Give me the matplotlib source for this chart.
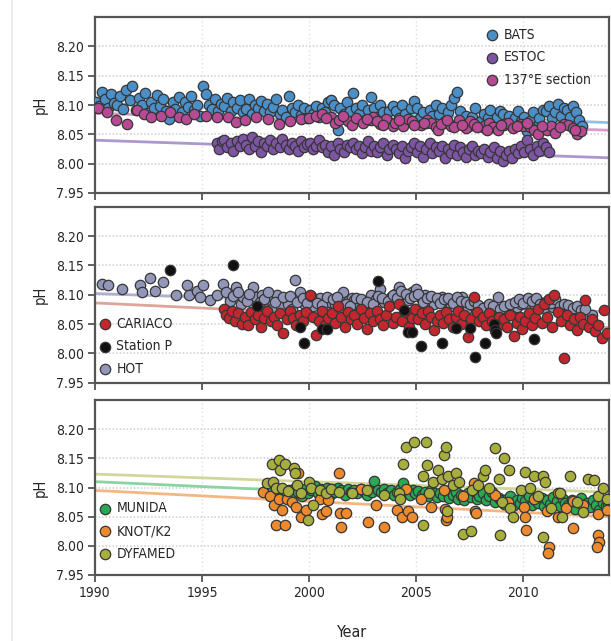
import matplotlib
matplotlib.use("Agg")
import matplotlib.pyplot as plt
import matplotlib.font_manager as fm
from matplotlib.lines import Line2D

# the original uses a condensed sans; take one if it is installed
avail = {(f.name, f.stretch) for f in fm.fontManager.ttflist}
names = {n for n, s in avail}
if "Liberation Sans Narrow" in names:
    plt.rcParams["font.family"] = ["Liberation Sans Narrow", "DejaVu Sans"]
    FS = 11
elif ("DejaVu Sans", "condensed") in avail:
    plt.rcParams["font.family"] = ["DejaVu Sans"]
    plt.rcParams["font.stretch"] = "condensed"
    FS = 10
else:
    plt.rcParams["font.family"] = ["Liberation Sans", "DejaVu Sans"]
    FS = 10

# ---------------- panel 1: BATS, ESTOC, 137E section ----------------
bats_year = [
    1990.04, 1990.18, 1990.33, 1990.46, 1990.62, 1990.75, 1990.90,
    1991.04, 1991.18, 1991.33, 1991.46, 1991.62, 1991.75, 1991.90,
    1992.04, 1992.18, 1992.33, 1992.46, 1992.62, 1992.75, 1992.90,
    1993.04, 1993.18, 1993.33, 1993.46, 1993.62, 1993.75, 1993.90,
    1994.04, 1994.18, 1994.33, 1994.46, 1994.62, 1994.75, 1994.90,
    1995.04, 1995.18, 1995.33, 1995.46, 1995.62, 1995.75, 1995.90,
    1996.04, 1996.18, 1996.33, 1996.46, 1996.62, 1996.75, 1996.90,
    1997.04, 1997.18, 1997.33, 1997.46, 1997.62, 1997.75, 1997.90,
    1998.04, 1998.18, 1998.33, 1998.46, 1998.62, 1998.75, 1998.90,
    1999.04, 1999.18, 1999.33, 1999.46, 1999.62, 1999.75, 1999.90,
    2000.04, 2000.18, 2000.33, 2000.46, 2000.62, 2000.75, 2000.90,
    2001.04, 2001.18, 2001.33, 2001.46, 2001.62, 2001.75, 2001.90,
    2002.04, 2002.18, 2002.33, 2002.46, 2002.62, 2002.75, 2002.90,
    2003.04, 2003.18, 2003.33, 2003.46, 2003.62, 2003.75, 2003.90,
    2004.04, 2004.18, 2004.33, 2004.46, 2004.62, 2004.75, 2004.90,
    2005.04, 2005.18, 2005.33, 2005.46, 2005.62, 2005.75, 2005.90,
    2006.04, 2006.18, 2006.33, 2006.46, 2006.62, 2006.75, 2006.90,
    2007.04, 2007.18, 2007.33, 2007.46, 2007.62, 2007.75, 2007.90,
    2008.04, 2008.18, 2008.33, 2008.46, 2008.62, 2008.75, 2008.90,
    2009.04, 2009.18, 2009.33, 2009.46, 2009.62, 2009.75, 2009.90,
    2010.04, 2010.18, 2010.33, 2010.46, 2010.62, 2010.75, 2010.90,
    2011.04, 2011.18, 2011.33, 2011.46, 2011.62, 2011.75, 2011.90,
    2012.04, 2012.18, 2012.33, 2012.46, 2012.62, 2012.75,
]
bats_ph = [
    8.105, 8.098, 8.122, 8.110, 8.095, 8.118, 8.104,
    8.100, 8.115, 8.094, 8.126, 8.108, 8.132, 8.092,
    8.112, 8.100, 8.120, 8.086, 8.105, 8.095, 8.117,
    8.098, 8.110, 8.090, 8.076, 8.105, 8.093, 8.114,
    8.088, 8.105, 8.096, 8.115, 8.092, 8.100, 8.082,
    8.132, 8.118, 8.100, 8.094, 8.110, 8.090, 8.102,
    8.098, 8.112, 8.089, 8.105, 8.095, 8.108, 8.088,
    8.093, 8.110, 8.085, 8.100, 8.095, 8.106, 8.090,
    8.102, 8.088, 8.096, 8.110, 8.085, 8.092, 8.080,
    8.115, 8.095, 8.088, 8.100, 8.083, 8.095, 8.078,
    8.092, 8.085, 8.098, 8.080, 8.095, 8.088, 8.105,
    8.108, 8.100, 8.058, 8.095, 8.085, 8.105, 8.090,
    8.120, 8.095, 8.085, 8.100, 8.075, 8.092, 8.113,
    8.095, 8.080, 8.100, 8.088, 8.075, 8.090, 8.098,
    8.090, 8.078, 8.100, 8.085, 8.072, 8.095, 8.106,
    8.095, 8.078, 8.088, 8.070, 8.092, 8.082, 8.100,
    8.085, 8.095, 8.072, 8.088, 8.100, 8.112, 8.122,
    8.090, 8.075, 8.082, 8.065, 8.080, 8.095, 8.070,
    8.072, 8.085, 8.078, 8.092, 8.068, 8.080, 8.090,
    8.085, 8.070, 8.082, 8.065, 8.078, 8.090, 8.072,
    8.080, 8.055, 8.072, 8.088, 8.065, 8.078, 8.092,
    8.090, 8.098, 8.078, 8.088, 8.102, 8.082, 8.095,
    8.092, 8.080, 8.098, 8.088, 8.075, 8.065,
]

estoc_year = [
    1995.70, 1995.80, 1995.92,
    1996.04, 1996.18, 1996.33, 1996.46, 1996.62, 1996.75, 1996.90,
    1997.04, 1997.18, 1997.33, 1997.46, 1997.62, 1997.75, 1997.90,
    1998.04, 1998.18, 1998.33, 1998.46, 1998.62, 1998.75, 1998.90,
    1999.04, 1999.18, 1999.33, 1999.46, 1999.62, 1999.75, 1999.90,
    2000.04, 2000.18, 2000.33, 2000.46, 2000.62, 2000.75, 2000.90,
    2001.04, 2001.18, 2001.33, 2001.46, 2001.62, 2001.75, 2001.90,
    2002.04, 2002.18, 2002.33, 2002.46, 2002.62, 2002.75, 2002.90,
    2003.04, 2003.18, 2003.33, 2003.46, 2003.62, 2003.75, 2003.90,
    2004.04, 2004.18, 2004.33, 2004.46, 2004.62, 2004.75, 2004.90,
    2005.04, 2005.18, 2005.33, 2005.46, 2005.62, 2005.75, 2005.90,
    2006.04, 2006.18, 2006.33, 2006.46, 2006.62, 2006.75, 2006.90,
    2007.04, 2007.18, 2007.33, 2007.46, 2007.62, 2007.75, 2007.90,
    2008.04, 2008.18, 2008.33, 2008.46, 2008.62, 2008.75, 2008.90,
    2009.04, 2009.18, 2009.33, 2009.46, 2009.62, 2009.75, 2009.90,
    2010.04, 2010.18, 2010.33, 2010.46, 2010.62, 2010.75, 2010.90,
    2011.05, 2011.18,
]
estoc_ph = [
    8.035, 8.025, 8.038,
    8.040, 8.028, 8.035, 8.022, 8.038, 8.030, 8.042,
    8.032, 8.025, 8.045, 8.030, 8.038, 8.020, 8.035,
    8.030, 8.040, 8.025, 8.035, 8.028, 8.042, 8.032,
    8.025, 8.035, 8.030, 8.022, 8.038, 8.028, 8.033,
    8.035, 8.025, 8.030, 8.040, 8.028, 8.032, 8.020,
    8.030, 8.015, 8.035, 8.025, 8.020, 8.032, 8.028,
    8.035, 8.025, 8.030, 8.018, 8.028, 8.038, 8.022,
    8.030, 8.020, 8.028, 8.035, 8.015, 8.025, 8.032,
    8.025, 8.018, 8.030, 8.010, 8.022, 8.028, 8.035,
    8.020, 8.030, 8.012, 8.025, 8.035, 8.018, 8.028,
    8.022, 8.030, 8.010, 8.025, 8.018, 8.032, 8.015,
    8.028, 8.020, 8.012, 8.025, 8.030, 8.015, 8.022,
    8.018, 8.025, 8.012, 8.020, 8.028, 8.010, 8.022,
    8.005, 8.015, 8.022, 8.010, 8.025, 8.018, 8.030,
    8.020, 8.040, 8.025, 8.015, 8.030, 8.022, 8.035,
    8.028, 8.020,
]

e137_year = [
    1990.15, 1990.55, 1991.00, 1991.50, 1991.95, 1992.30, 1992.60, 1993.10,
    1993.50, 1993.90, 1994.25, 1994.60, 1995.20, 1995.70, 1996.20, 1996.60,
    1997.00, 1997.50, 1998.10, 1998.60, 1999.10, 1999.60, 2000.00, 2000.30,
    2000.60, 2001.00, 2001.20, 2001.40, 2001.80, 2002.00, 2002.20, 2002.50,
    2002.90, 2003.00, 2003.30, 2003.60, 2003.90, 2004.00, 2004.40, 2004.60,
    2004.80, 2005.20, 2005.50, 2005.70, 2005.90, 2006.00, 2006.30, 2006.60,
    2006.90, 2007.00, 2007.30, 2007.50, 2007.70, 2008.10, 2008.20, 2008.40,
    2008.60, 2008.80, 2009.10, 2009.30, 2009.50, 2009.90, 2010.00, 2010.30,
    2010.50, 2010.70, 2011.10, 2011.30, 2011.50, 2011.90, 2012.10, 2012.30,
    2012.50, 2012.70,
    2000.80, 2001.60, 2002.70, 2003.15, 2003.45, 2004.20, 2004.90, 2005.35,
    2006.15, 2006.45, 2006.75, 2007.15, 2007.85, 2008.30, 2008.95, 2009.70,
    2010.15, 2010.85, 2011.70, 2012.40,
]
e137_ph = [
    8.095, 8.088, 8.074, 8.067, 8.091, 8.084, 8.079, 8.082,
    8.088, 8.080, 8.076, 8.085, 8.082, 8.079, 8.080, 8.071,
    8.074, 8.080, 8.076, 8.067, 8.073, 8.076, 8.078, 8.082,
    8.084, 8.080, 8.070, 8.075, 8.072, 8.066, 8.078, 8.070,
    8.074, 8.080, 8.068, 8.076, 8.064, 8.070, 8.064, 8.076,
    8.072, 8.066, 8.074, 8.070, 8.062, 8.058, 8.070, 8.065,
    8.068, 8.075, 8.060, 8.072, 8.068, 8.062, 8.066, 8.070,
    8.062, 8.058, 8.066, 8.070, 8.060, 8.068, 8.064, 8.062,
    8.058, 8.050, 8.058, 8.064, 8.052, 8.068, 8.066, 8.060,
    8.050, 8.055,
    8.078, 8.082, 8.076, 8.072, 8.066, 8.074, 8.066, 8.070,
    8.068, 8.074, 8.062, 8.066, 8.062, 8.058, 8.066, 8.064,
    8.070, 8.064, 8.062, 8.058,
]

# ---------------- panel 2: CARIACO, Station P, HOT ----------------
cariaco_year = [
    1996.00, 1996.10, 1996.25, 1996.40, 1996.55, 1996.70, 1996.85,
    1997.00, 1997.15, 1997.30, 1997.45, 1997.60, 1997.75, 1997.90,
    1998.05, 1998.20, 1998.35, 1998.50, 1998.65, 1998.80, 1998.95,
    1999.10, 1999.25, 1999.40, 1999.55, 1999.70, 1999.85,
    2000.05, 2000.20, 2000.30, 2000.45, 2000.60, 2000.75, 2000.90,
    2001.05, 2001.20, 2001.35, 2001.50, 2001.65, 2001.80, 2001.95,
    2002.10, 2002.25, 2002.40, 2002.55, 2002.70, 2002.85, 2003.00,
    2003.15, 2003.30, 2003.45, 2003.60, 2003.75, 2003.90,
    2004.05, 2004.20, 2004.35, 2004.50, 2004.65, 2004.80, 2004.95,
    2005.10, 2005.25, 2005.40, 2005.55, 2005.70, 2005.85, 2005.95,
    2006.10, 2006.25, 2006.40, 2006.55, 2006.70, 2006.85, 2006.95,
    2007.10, 2007.25, 2007.40, 2007.55, 2007.70, 2007.85, 2007.95,
    2008.10, 2008.25, 2008.40, 2008.55, 2008.70, 2008.85, 2008.95,
    2009.10, 2009.25, 2009.40, 2009.55, 2009.70, 2009.85, 2009.95,
    2010.10, 2010.25, 2010.40, 2010.55, 2010.70, 2010.85, 2010.95,
    2011.10, 2011.20, 2011.35, 2011.45, 2011.60, 2011.75, 2011.90,
    2012.05, 2012.20, 2012.35, 2012.50, 2012.65, 2012.80, 2012.90,
    2013.05, 2013.20, 2013.35, 2013.50, 2013.65, 2013.75, 2013.90,
]
cariaco_ph = [
    8.075, 8.065, 8.060, 8.072, 8.055, 8.068, 8.050,
    8.062, 8.048, 8.070, 8.058, 8.066, 8.045, 8.060,
    8.072, 8.055, 8.062, 8.048, 8.068, 8.035, 8.058,
    8.072, 8.060, 8.048, 8.066, 8.055, 8.070,
    8.100, 8.062, 8.031, 8.055, 8.072, 8.048, 8.060,
    8.068, 8.052, 8.080, 8.062, 8.045, 8.070, 8.058,
    8.065, 8.050, 8.075, 8.060, 8.042, 8.068, 8.055,
    8.072, 8.058, 8.048, 8.066, 8.080, 8.052,
    8.062, 8.085, 8.055, 8.070, 8.045, 8.060, 8.075,
    8.058, 8.068, 8.050, 8.072, 8.062, 8.040, 8.055,
    8.065, 8.052, 8.070, 8.058, 8.045, 8.062, 8.072,
    8.050, 8.065, 8.028, 8.058, 8.096, 8.070, 8.055,
    8.062, 8.048, 8.068, 8.055, 8.040, 8.062, 8.050,
    8.058, 8.045, 8.065, 8.030, 8.052, 8.062, 8.042,
    8.055, 8.068, 8.048, 8.060, 8.075, 8.052, 8.085,
    8.062, 8.092, 8.045, 8.099, 8.070, 8.055, 7.992,
    8.065, 8.048, 8.058, 8.040, 8.062, 8.050, 8.091,
    8.045, 8.058, 8.038, 8.048, 8.026, 8.074, 8.035,
]

stationp_year = [
    1993.50, 1996.45, 1997.55, 1999.55, 1999.75, 2000.60, 2000.82,
    2003.20, 2004.45, 2004.60, 2004.78, 2005.20, 2006.20, 2006.85,
    2007.50, 2007.75, 2008.20, 2008.62, 2008.68, 2008.72, 2010.50,
]
stationp_ph = [
    8.142, 8.150, 8.080, 8.045, 8.017, 8.042, 8.042,
    8.124, 8.074, 8.037, 8.037, 8.013, 8.017, 8.043,
    8.043, 7.994, 8.018, 8.050, 8.040, 8.034, 8.024,
]

hot_year = [
    1990.32, 1990.63, 1991.25, 1992.10, 1992.18, 1992.57, 1992.80, 1993.19,
    1993.80, 1994.28, 1994.40, 1994.75, 1994.90, 1995.05, 1995.37, 1995.70,
    1995.98, 1996.10, 1996.30, 1996.60, 1996.80, 1996.92, 1997.10, 1997.38,
    1997.50, 1997.60, 1997.80, 1998.00, 1998.16, 1998.30, 1998.50, 1998.70,
    1998.95, 1999.00, 1999.20, 1999.33, 1999.55, 1999.80, 2000.00, 2000.20,
    2000.50, 2000.70, 2000.95, 2001.20, 2001.40, 2001.58, 2001.80, 2002.00,
    2002.10, 2002.30, 2002.50, 2002.90, 2003.10, 2003.30, 2003.50, 2003.80,
    2004.00, 2004.20, 2004.40, 2004.60, 2004.80, 2005.00, 2005.20, 2005.40,
    2005.60, 2005.85, 2006.00, 2006.20, 2006.40, 2006.60, 2006.77, 2007.00,
    2007.15, 2007.40, 2007.60, 2007.80, 2008.00, 2008.30, 2008.50, 2008.80,
    2009.00, 2009.30, 2009.50, 2009.70, 2009.90, 2010.10, 2010.30, 2010.50,
    2010.70, 2010.97, 2011.20, 2011.40, 2011.60, 2011.80, 2012.00, 2012.20,
    2012.40, 2012.60, 2012.83, 2013.00, 2013.20,
    1996.45, 1996.70, 1997.20, 1997.70, 1997.90, 1998.10, 1998.40, 1998.80,
    1999.10, 1999.45, 1999.70, 1999.90, 2000.10, 2000.35, 2000.60, 2000.85,
    2001.10, 2001.30, 2001.70, 2001.90, 2002.20, 2002.40, 2002.70, 2003.00,
    2003.20, 2003.40, 2003.70, 2003.90, 2004.10, 2004.30, 2004.50, 2004.70,
    2004.90, 2005.10, 2005.30, 2005.50, 2005.70, 2005.95, 2006.10, 2006.30,
    2006.50, 2006.70, 2006.90, 2007.10, 2007.30, 2007.50, 2007.70, 2007.90,
    2008.10, 2008.40, 2008.60, 2008.90, 2009.10, 2009.40, 2009.60, 2009.80,
    2010.00, 2010.20, 2010.40, 2010.60, 2010.80, 2011.10, 2011.30, 2011.50,
    2011.70, 2011.90, 2012.10, 2012.30, 2012.50, 2012.70, 2012.90,
]
hot_ph = [
    8.119, 8.116, 8.109, 8.116, 8.105, 8.128, 8.107, 8.122,
    8.099, 8.116, 8.100, 8.107, 8.096, 8.116, 8.091, 8.100,
    8.119, 8.105, 8.090, 8.113, 8.085, 8.096, 8.090, 8.113,
    8.096, 8.080, 8.100, 8.085, 8.091, 8.078, 8.099, 8.080,
    8.091, 8.085, 8.075, 8.125, 8.105, 8.082, 8.091, 8.080,
    8.094, 8.075, 8.088, 8.085, 8.078, 8.105, 8.090, 8.094,
    8.091, 8.082, 8.085, 8.099, 8.092, 8.110, 8.088, 8.096,
    8.102, 8.113, 8.098, 8.091, 8.104, 8.110, 8.094, 8.099,
    8.090, 8.085, 8.092, 8.096, 8.088, 8.080, 8.091, 8.085,
    8.096, 8.078, 8.082, 8.075, 8.071, 8.080, 8.074, 8.096,
    8.068, 8.071, 8.075, 8.079, 8.085, 8.091, 8.080, 8.085,
    8.090, 8.077, 8.085, 8.079, 8.082, 8.072, 8.078, 8.074,
    8.068, 8.072, 8.068, 8.060, 8.065,
    8.098, 8.104, 8.102, 8.088, 8.092, 8.104, 8.088, 8.096,
    8.098, 8.088, 8.095, 8.086, 8.098, 8.086, 8.082, 8.096,
    8.092, 8.096, 8.084, 8.080, 8.095, 8.092, 8.088, 8.084,
    8.098, 8.094, 8.090, 8.100, 8.094, 8.106, 8.102, 8.094,
    8.098, 8.102, 8.088, 8.094, 8.098, 8.094, 8.086, 8.092,
    8.094, 8.086, 8.096, 8.090, 8.088, 8.084, 8.090, 8.082,
    8.078, 8.084, 8.080, 8.076, 8.080, 8.084, 8.088, 8.092,
    8.086, 8.094, 8.090, 8.094, 8.084, 8.090, 8.086, 8.092,
    8.080, 8.084, 8.082, 8.078, 8.080, 8.074, 8.076,
]

# ---------------- panel 3: MUNIDA, KNOT/K2, DYFAMED ----------------
munida_year = [
    1998.10, 1998.30, 1998.50, 1998.70, 1998.90,
    1999.05, 1999.20, 1999.35, 1999.50, 1999.65, 1999.80, 1999.95,
    2000.10, 2000.25, 2000.40, 2000.55, 2000.70, 2000.85, 2000.95,
    2001.05, 2001.20, 2001.35, 2001.50, 2001.65, 2001.80, 2001.95,
    2002.10, 2002.25, 2002.40, 2002.55, 2002.70, 2002.85, 2002.95,
    2003.05, 2003.20, 2003.35, 2003.50, 2003.65, 2003.80, 2003.95,
    2004.10, 2004.25, 2004.40, 2004.55, 2004.70, 2004.85, 2004.95,
    2005.10, 2005.25, 2005.40, 2005.55, 2005.70, 2005.85, 2005.95,
    2006.10, 2006.25, 2006.40, 2006.55, 2006.70, 2006.85, 2006.95,
    2007.10, 2007.25, 2007.40, 2007.55, 2007.70, 2007.85, 2007.95,
    2008.10, 2008.25, 2008.40, 2008.55, 2008.70, 2008.85, 2008.95,
    2009.10, 2009.25, 2009.40, 2009.55, 2009.70, 2009.85, 2009.95,
    2010.10, 2010.25, 2010.40, 2010.55, 2010.70, 2010.85, 2010.95,
    2011.10, 2011.25, 2011.40, 2011.55, 2011.70, 2011.85, 2011.95,
    2012.10, 2012.25, 2012.40, 2012.55, 2012.70, 2012.85, 2012.95,
    2013.10, 2013.25, 2013.40, 2013.55, 2013.70, 2013.85, 2013.95,
]
munida_ph = [
    8.092, 8.098, 8.088, 8.095, 8.090,
    8.096, 8.088, 8.100, 8.092, 8.085, 8.098, 8.090,
    8.095, 8.102, 8.090, 8.098, 8.093, 8.100, 8.088,
    8.097, 8.092, 8.100, 8.095, 8.088, 8.098, 8.092,
    8.096, 8.090, 8.098, 8.094, 8.088, 8.096, 8.092,
    8.112, 8.096, 8.092, 8.098, 8.090, 8.095, 8.088,
    8.093, 8.098, 8.108, 8.092, 8.088, 8.095, 8.090,
    8.094, 8.088, 8.092, 8.085, 8.096, 8.090, 8.084,
    8.090, 8.086, 8.094, 8.082, 8.088, 8.092, 8.080,
    8.088, 8.078, 8.090, 8.084, 8.094, 8.080, 8.086,
    8.090, 8.078, 8.085, 8.092, 8.075, 8.082, 8.078,
    8.072, 8.080, 8.085, 8.070, 8.078, 8.074, 8.082,
    8.076, 8.085, 8.070, 8.078, 8.074, 8.082, 8.068,
    8.078, 8.072, 8.084, 8.076, 8.068, 8.080, 8.074,
    8.070, 8.078, 8.064, 8.075, 8.082, 8.068, 8.074,
    8.066, 8.078, 8.070, 8.062, 8.074, 8.068, 8.072,
]

knot_year = [
    1997.85, 1998.15, 1998.35, 1998.45, 1998.60, 1998.75, 1998.85, 1998.95,
    1999.20, 1999.40, 1999.50, 1999.60, 1999.85, 2000.50, 2000.60, 2000.80,
    2000.90, 2001.40, 2001.45, 2001.50, 2001.70, 2002.43, 2002.74, 2003.13,
    2003.50, 2004.10, 2004.35, 2004.53, 2004.60, 2004.80, 2005.20, 2005.70,
    2006.30, 2006.35, 2006.40, 2006.45, 2007.20, 2007.70, 2007.72, 2007.80,
    2008.70, 2009.30, 2010.04, 2010.10, 2010.12, 2010.50, 2011.10, 2011.20,
    2011.15, 2011.60, 2011.62, 2012.00, 2012.30, 2012.32, 2012.80, 2013.50,
    2013.50, 2013.55, 2013.45, 2013.90,
]
knot_ph = [
    8.093, 8.085, 8.070, 8.036, 8.080, 8.062, 8.035, 8.080,
    8.075, 8.066, 8.125, 8.050, 8.062, 8.080, 8.055, 8.060,
    8.078, 8.124, 8.056, 8.033, 8.056, 8.098, 8.041, 8.070,
    8.033, 8.061, 8.050, 8.098, 8.060, 8.050, 8.080, 8.067,
    8.096, 8.064, 8.044, 8.050, 8.085, 8.107, 8.060, 8.056,
    8.087, 8.075, 8.067, 8.050, 8.027, 8.080, 8.060, 7.998,
    7.988, 8.090, 8.050, 8.065, 8.077, 8.030, 8.070, 8.055,
    8.018, 8.006, 7.998, 8.062,
]

dyfamed_year = [
    1998.05, 1998.25, 1998.30, 1998.45, 1998.60, 1998.65, 1998.75, 1998.85,
    1999.00, 1999.30, 1999.35, 1999.45, 1999.60, 1999.95, 2000.00, 2000.10,
    2000.20, 2000.50, 2000.80, 2001.00, 2001.40, 2002.00, 2002.70, 2003.50,
    2004.20, 2004.25, 2004.37, 2004.53, 2004.90, 2005.30, 2005.32, 2005.45,
    2005.50, 2005.60, 2005.80, 2006.00, 2006.20, 2006.30, 2006.40, 2006.42,
    2006.50, 2006.70, 2006.85, 2007.00, 2007.20, 2007.55, 2007.60, 2007.90,
    2008.10, 2008.20, 2008.40, 2008.70, 2008.85, 2008.90, 2009.00, 2009.10,
    2009.35, 2009.40, 2009.50, 2009.90, 2010.10, 2010.30, 2010.50, 2010.70,
    2010.90, 2010.92, 2011.00, 2011.30, 2011.70, 2011.80, 2012.20, 2012.50,
    2012.80, 2013.00, 2013.30, 2013.50, 2013.70, 2013.90,
]
dyfamed_ph = [
    8.108, 8.141, 8.110, 8.100, 8.147, 8.130, 8.100, 8.140,
    8.094, 8.133, 8.125, 8.105, 8.090, 8.044, 8.110, 8.100,
    8.070, 8.095, 8.090, 8.098, 8.093, 8.090, 8.095, 8.088,
    8.090, 8.080, 8.141, 8.170, 8.178, 8.035, 8.120, 8.178,
    8.138, 8.090, 8.110, 8.130, 8.115, 8.155, 8.170, 8.060,
    8.120, 8.105, 8.125, 8.110, 8.021, 8.026, 8.095, 8.105,
    8.120, 8.130, 8.100, 8.167, 8.115, 8.018, 8.075, 8.150,
    8.130, 8.065, 8.050, 8.095, 8.127, 8.100, 8.120, 8.085,
    8.120, 8.016, 8.110, 8.065, 8.090, 8.050, 8.120, 8.075,
    8.058, 8.115, 8.113, 8.085, 8.100, 8.080,
]

# trend lines: value at 1990 and at 2014
trend_years = [1990, 2014]
bats_trend = [8.103, 8.070]
e137_trend = [8.086, 8.057]
estoc_trend = [8.040, 8.010]
hot_trend = [8.102, 8.071]
cariaco_trend = [8.086, 8.044]
dyfamed_trend = [8.123, 8.092]
munida_trend = [8.110, 8.070]
knot_trend = [8.095, 8.050]

year_ticks = [1990, 1995, 2000, 2005, 2010]
ph_ticks = [7.95, 8.00, 8.05, 8.10, 8.15, 8.20]

W, H = 611, 641
fig = plt.figure(figsize=(W / 100, H / 100), dpi=100)
fig.add_artist(Line2D([12 / W, 12 / W], [0, 1], color="#e9e9e9", lw=1.2))

left = 95 / W
width = (609 - 95) / W
panels = [(17, 193), (206.7, 382.7), (400, 575)]
axes = []
for top, bot in panels:
    ax = fig.add_axes([left, 1 - bot / H, width, (bot - top) / H])
    axes.append(ax)

edge = "#363636"
txt = "#262626"


def dots(ax, x, y, color, label):
    ax.scatter(x, y, s=56, color=color, edgecolors=edge, linewidths=0.9,
               zorder=3, label=label)


def trend(ax, vals, color):
    ax.plot(trend_years, vals, color=color, lw=2.0, zorder=2)


ax1, ax2, ax3 = axes

trend(ax1, bats_trend, "#93c0e2")
trend(ax1, e137_trend, "#dc9cc9")
trend(ax1, estoc_trend, "#ab98cc")
dots(ax1, bats_year, bats_ph, "#4a8fc7", "BATS")
dots(ax1, estoc_year, estoc_ph, "#7d55a3", "ESTOC")
dots(ax1, e137_year, e137_ph, "#b84a93", "137°E section")

trend(ax2, hot_trend, "#aeb1cc")
trend(ax2, cariaco_trend, "#dfa49a")
dots(ax2, hot_year, hot_ph, "#9297b9", "HOT")
dots(ax2, cariaco_year, cariaco_ph, "#c1272d", "CARIACO")
dots(ax2, stationp_year, stationp_ph, "#111111", "Station P")

trend(ax3, dyfamed_trend, "#d3d69a")
trend(ax3, munida_trend, "#8ad4a3")
trend(ax3, knot_trend, "#f2b784")
dots(ax3, munida_year, munida_ph, "#2aa853", "MUNIDA")
dots(ax3, knot_year, knot_ph, "#ec8a2d", "KNOT/K2")
dots(ax3, dyfamed_year, dyfamed_ph, "#a7ae3c", "DYFAMED")

for i, ax in enumerate(axes):
    ax.set_xlim(1990, 2014)
    ax.set_ylim(7.95, 8.25)
    ax.set_xticks(year_ticks)
    ax.set_yticks(ph_ticks)
    ax.set_yticklabels([f"{v:.2f}" for v in ph_ticks])
    for y in ph_ticks[1:]:
        ax.axhline(y, color="#cdcdcd", lw=1.1, ls=(0, (1, 1.3)), zorder=1)
    for x in year_ticks[1:]:
        ax.axvline(x, color="#dedede", lw=1.0, ls=(0, (1, 2)), zorder=1)
    for sp in ax.spines.values():
        sp.set_color("#555555")
        sp.set_linewidth(1.6)
    ax.tick_params(direction="out", length=5, width=1.3, color="#555555",
                   labelsize=FS, labelcolor=txt, pad=3)
    ax.set_ylabel("pH", fontsize=FS + 0.5, color=txt, labelpad=6)
    if i < 2:
        ax.tick_params(axis="x", labelbottom=False)

ax3.set_xlabel("Year", fontsize=FS + 1.5, color=txt, labelpad=18)

leg_kw = dict(frameon=False, fontsize=FS, handlelength=0.8, handletextpad=0.45,
              borderpad=0, borderaxespad=0, labelspacing=0.62,
              labelcolor=txt, scatterpoints=1)

h, l = ax1.get_legend_handles_labels()
ax1.legend(h, l, loc="upper left", bbox_to_anchor=(0.762, 0.94), **leg_kw)

h, l = ax2.get_legend_handles_labels()
order = [1, 2, 0]
ax2.legend([h[k] for k in order], [l[k] for k in order], loc="upper left",
           bbox_to_anchor=(0.008, 0.375), **leg_kw)

h, l = ax3.get_legend_handles_labels()
ax3.legend(h, l, loc="upper left", bbox_to_anchor=(0.008, 0.42), **leg_kw)

fig.savefig("out.png", dpi=100)
